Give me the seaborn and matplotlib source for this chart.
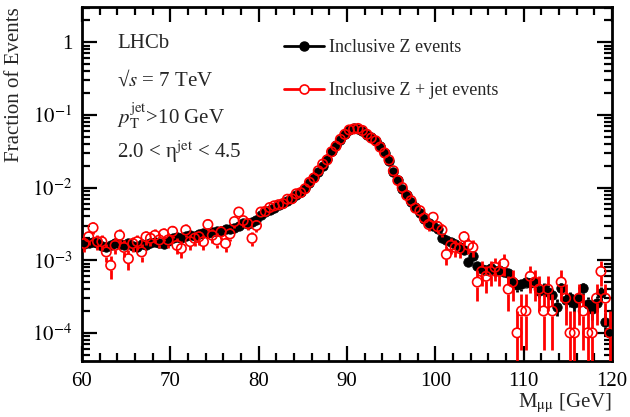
import numpy as np
import pandas as pd
import matplotlib
matplotlib.use("Agg")
import matplotlib.pyplot as plt
import seaborn as sns
from matplotlib.lines import Line2D
from matplotlib.ticker import MultipleLocator, LogLocator, FuncFormatter, NullFormatter

# ---------------- data ----------------
bin_low, bin_high, bin_width = 60.0, 120.0, 0.5
mass = np.arange(bin_low + bin_width / 2, bin_high, bin_width)

# Inclusive Z events, fraction per 0.5 GeV bin (x 1e-3)
z_frac = [
    1.65, 1.75, 1.80, 1.70, 1.55, 1.50, 1.60, 1.72, 1.65, 1.60,
    1.70, 1.58, 1.52, 1.66, 1.62, 1.75, 1.80, 1.70, 1.65, 1.85,
    2.00, 2.10, 2.05, 2.15, 2.20, 2.15, 2.30, 2.35, 2.40, 2.45,
    2.55, 2.50, 2.65, 2.70, 2.80, 3.00, 3.20, 3.10, 3.40, 3.60,
    4.2, 4.6, 4.9, 5.3, 5.7, 6.1, 6.6, 7.2, 7.9, 8.8,
    10.0, 11.5, 14.0, 16.5, 20.0, 25.0, 32.0, 38.0, 45.0, 55.0,
    62.0, 66.0, 64.0, 60.0, 53.0, 49.0, 43.0, 37.0, 30.0, 23.5,
    16.5, 12.5, 9.5, 8.0, 6.4, 5.4, 4.5, 3.7, 3.2, 2.95,
    2.7, 2.05, 1.9, 1.8, 1.65, 1.5, 1.4, 0.95, 1.15, 0.82,
    0.75, 0.73, 0.78, 0.70, 0.73, 0.69, 0.66, 0.50, 0.45, 0.47,
    0.50, 0.48, 0.50, 0.38, 0.40, 0.37, 0.33, 0.23, 0.41, 0.28,
    0.30, 0.26, 0.30, 0.41, 0.25, 0.21, 0.26, 0.35, 0.14, 0.10,
]

# Inclusive Z + jet events, fraction per 0.5 GeV bin (x 1e-3); 0 = empty bin
zjet_frac = [
    1.7, 2.1, 2.8, 1.8, 1.8, 1.3, 0.85, 1.6, 2.2, 1.5,
    1.05, 1.7, 1.8, 1.3, 2.1, 2.0, 2.2, 1.9, 2.3, 1.9,
    2.5, 1.6, 1.45, 2.6, 1.8, 2.0, 2.1, 1.8, 3.1, 2.2,
    1.9, 2.45, 1.7, 2.3, 3.4, 4.6, 3.5, 3.2, 2.0, 3.0,
    4.6, 4.7, 5.3, 5.6, 5.8, 6.0, 6.9, 7.0, 8.2, 8.5,
    9.6, 11.8, 13.5, 17.0, 21.0, 24.0, 31.0, 37.0, 46.0, 54.0,
    62.0, 64.0, 65.0, 61.0, 54.0, 48.0, 44.0, 36.0, 30.0, 24.0,
    17.0, 12.5, 10.0, 7.8, 6.6, 5.2, 4.8, 3.8, 3.1, 3.9,
    2.9, 2.6, 1.2, 1.6, 1.5, 1.45, 2.1, 1.6, 1.5, 0.5,
    0.7, 0.6, 0.7, 0.8, 0.7, 0.9, 0.4, 0.5, 0.1, 0.2,
    0.2, 0.6, 0.5, 0.4, 0.2, 0.4, 0.2, 0.0, 0.5, 0.3,
    0.1, 0.1, 0.3, 0.2, 0.1, 0.1, 0.3, 0.7, 0.3, 0.1,
]

n_events_z = 60000      # sample sizes used for Poisson error bars
n_events_zjet = 10000

labels = ["Inclusive Z events", "Inclusive Z + jet events"]
info_text = ["LHCb", "√$s$ = 7 TeV", r"$p_{\mathrm{T}}^{\mathrm{jet}}$>10 GeV",
             r"2.0 < η$^{\mathrm{jet}}$ < 4.5"]

# ---------------- style ----------------
sns.set_theme(style="ticks")
plt.rcParams["font.family"] = ["Liberation Serif", "DejaVu Serif"]
plt.rcParams["mathtext.fontset"] = "stix"

fig = plt.figure(figsize=(6.30, 4.17), dpi=100)
ax = fig.add_axes([82 / 630, 1 - 361 / 417, (612 - 82) / 630, (361 - 7) / 417])

df = pd.DataFrame({
    "mass": np.concatenate([mass, mass]),
    "frac": np.concatenate([np.array(z_frac), np.array(zjet_frac)]) * 1e-3,
    "sample": [labels[0]] * len(mass) + [labels[1]] * len(mass),
})
df["n"] = np.where(df["sample"] == labels[0], n_events_z, n_events_zjet)
df["err"] = np.sqrt(df["frac"] / df["n"])
df.loc[df["frac"] <= 0, "frac"] = np.nan

ax.set_yscale("log")
ax.set_xlim(bin_low, bin_high)
ax.set_ylim(4.1e-5, 3.05)

gap = 10 ** (4.6 / 72.7)  # half marker size in log space (error bars stop at marker edge)

def draw_errors(sub, color, z):
    f = sub["frac"].to_numpy()
    e = sub["err"].to_numpy()
    x = sub["mass"].to_numpy()
    ok = ~np.isnan(f)
    x, f, e = x[ok], f[ok], e[ok]
    up_hi, up_lo = f + e, f * gap
    m = up_hi > up_lo
    ax.vlines(x[m], up_lo[m], up_hi[m], color=color, lw=2.0, zorder=z)
    lo_hi, lo_lo = f / gap, np.maximum(f - e, 1e-9)
    m = lo_lo < lo_hi
    ax.vlines(x[m], lo_lo[m], lo_hi[m], color=color, lw=2.0, zorder=z)

sub_z = df[df["sample"] == labels[0]]
sub_j = df[df["sample"] == labels[1]]

draw_errors(sub_z, "black", 2)
sns.scatterplot(data=sub_z, x="mass", y="frac", ax=ax, s=46, color="black",
                edgecolor="black", linewidth=0.6, legend=False, zorder=3)
draw_errors(sub_j, "#ff0000", 4)
sns.scatterplot(data=sub_j, x="mass", y="frac", ax=ax, s=46, color="red",
                linewidth=1.2, legend=False, zorder=5)
pts = ax.collections[-1]
pts.set_facecolor("none")
pts.set_edgecolor("#ff0000")

# ---------------- axes ----------------
ax.xaxis.set_major_locator(MultipleLocator(10))
ax.xaxis.set_minor_locator(MultipleLocator(2))
ax.yaxis.set_major_locator(LogLocator(base=10, numticks=10))
ax.yaxis.set_minor_locator(LogLocator(base=10, subs=np.arange(2, 10), numticks=20))
ax.yaxis.set_minor_formatter(NullFormatter())

def yfmt(v, pos):
    if abs(v - 1) < 1e-9:
        return "1"
    return r"$10^{%d}$" % int(round(np.log10(v)))

ax.yaxis.set_major_formatter(FuncFormatter(yfmt))
ax.tick_params(which="both", direction="in", top=True, right=True, width=1.6,
               labelsize=15, colors="black")
ax.tick_params(which="major", length=11)
ax.tick_params(which="minor", length=5.5)
ax.tick_params(axis="x", which="major", pad=8)
ax.tick_params(axis="y", which="major", pad=7)
for s in ax.spines.values():
    s.set_linewidth(2.0)
    s.set_color("black")

ax.set_xlabel(r"M$_{\mathrm{\mu\mu}}$ [GeV]", fontsize=15, loc="right")
ax.xaxis.set_label_coords(1.0, -0.12)
ax.xaxis.label.set_va("center")
ax.set_ylabel("Fraction of Events", fontsize=15, loc="top", labelpad=6)

# ---------------- annotations ----------------
ys = [44, 80, 116, 152]
for t, yy in zip(info_text, ys):
    fig.text(117 / 630, 1 - yy / 417, t, fontsize=15, va="center", ha="left")

handles = [
    Line2D([], [], color="black", lw=2, marker="o", ms=6.5, mfc="black", mec="black"),
    Line2D([], [], color="#ff0000", lw=2, marker="o", ms=6.5, mfc="white", mec="#ff0000", mew=1.2),
]
leg = ax.legend(handles, labels, loc="upper left", bbox_to_anchor=(268 / 630, 1 - 23 / 417),
                bbox_transform=fig.transFigure, frameon=False, fontsize=13,
                handlelength=2.2, handletextpad=0.3, labelspacing=1.45)

fig.savefig("out.png", dpi=100)
